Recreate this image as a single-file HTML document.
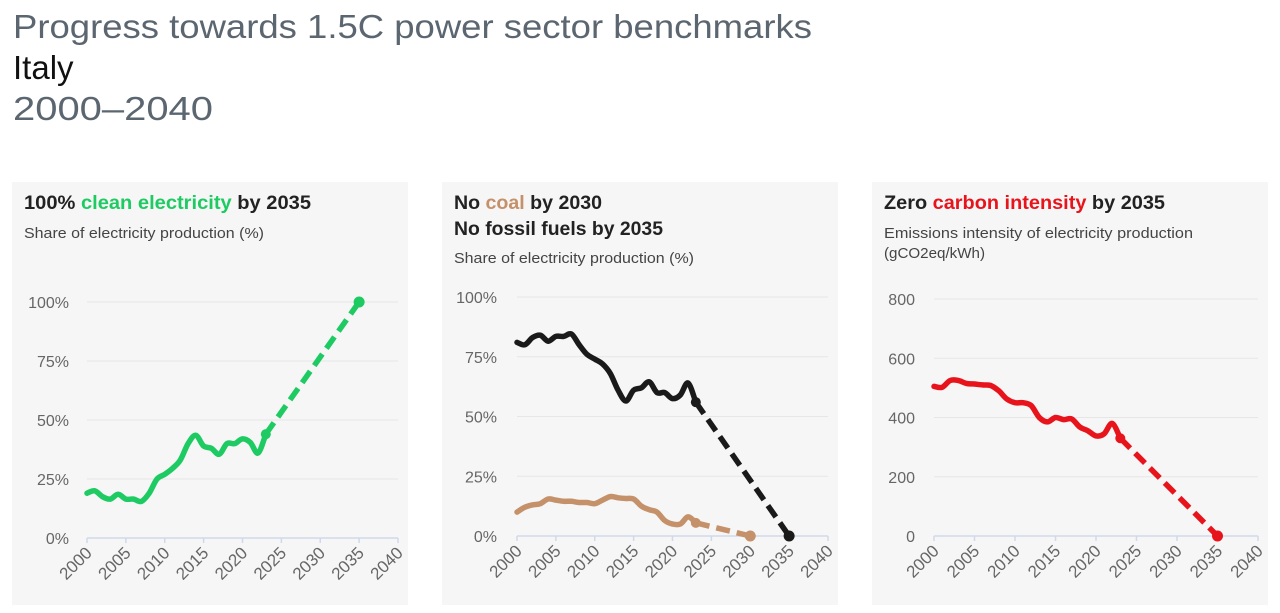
<!DOCTYPE html>
<html><head><meta charset="utf-8">
<style>
html,body{margin:0;padding:0;background:#fff;width:1280px;height:613px;overflow:hidden}
svg{display:block;font-family:"Liberation Sans",sans-serif}
</style></head>
<body>
<svg id="s" width="1280" height="613" viewBox="0 0 1280 613" xmlns="http://www.w3.org/2000/svg">
<text x="13" y="38" font-size="33" fill="#5b6670" textLength="799" lengthAdjust="spacingAndGlyphs">Progress towards 1.5C power sector benchmarks</text>
<text x="13" y="79" font-size="33" fill="#111">Italy</text>
<text x="13" y="120" font-size="33" fill="#5b6670" textLength="200" lengthAdjust="spacingAndGlyphs">2000–2040</text>
<rect x="12" y="182" width="396" height="423" fill="#f6f6f6"/>
<rect x="442" y="182" width="396" height="423" fill="#f6f6f6"/>
<rect x="872" y="182" width="396" height="423" fill="#f6f6f6"/>
<text x="24" y="209" font-size="19" font-weight="bold" fill="#222" textLength="287" lengthAdjust="spacingAndGlyphs">100% <tspan fill="#1ecb63">clean electricity</tspan> by 2035</text>
<text x="24" y="238" font-size="15" fill="#444" textLength="240" lengthAdjust="spacingAndGlyphs">Share of electricity production (%)</text>
<text x="454" y="209" font-size="19" font-weight="bold" fill="#222" textLength="148" lengthAdjust="spacingAndGlyphs">No <tspan fill="#c4916a">coal</tspan> by 2030</text>
<text x="454" y="235" font-size="19" font-weight="bold" fill="#222" textLength="209" lengthAdjust="spacingAndGlyphs">No fossil fuels by 2035</text>
<text x="454" y="263" font-size="15" fill="#444" textLength="240" lengthAdjust="spacingAndGlyphs">Share of electricity production (%)</text>
<text x="884" y="209" font-size="19" font-weight="bold" fill="#222" textLength="281" lengthAdjust="spacingAndGlyphs">Zero <tspan fill="#e8141c">carbon intensity</tspan> by 2035</text>
<text x="884" y="238" font-size="15" fill="#444" textLength="309" lengthAdjust="spacingAndGlyphs">Emissions intensity of electricity production</text>
<text x="884" y="258" font-size="15" fill="#444" textLength="101" lengthAdjust="spacingAndGlyphs">(gCO2eq/kWh)</text>
<g id="g"></g>
</svg>
<script>
var g=document.getElementById('g'),h='';
function axis(x0,x1,yTop,yBot,labels,lx){
  var n=labels.length-1;
  for(var i=0;i<=n;i++){var y=yBot-(yBot-yTop)*i/n;
    if(i>0)h+='<line x1="'+x0+'" x2="'+x1+'" y1="'+y+'" y2="'+y+'" stroke="#e6e6e6" stroke-width="1"/>';
    h+='<text x="'+lx+'" y="'+(y+6)+'" font-size="16" fill="#666" text-anchor="end">'+labels[i]+'</text>';}
  h+='<line x1="'+x0+'" x2="'+x1+'" y1="'+yBot+'" y2="'+yBot+'" stroke="#d0d8ea" stroke-width="1.5"/>';
  for(var k=0;k<=8;k++){var x=x0+(x1-x0)*k/8;
    h+='<line x1="'+x+'" x2="'+x+'" y1="'+yBot+'" y2="'+(yBot+5)+'" stroke="#d0d8ea" stroke-width="1.5"/>';
    h+='<text transform="translate('+(x+6)+','+(yBot+16)+') rotate(-45)" font-size="17" fill="#666" text-anchor="end">'+(2000+5*k)+'</text>';}
}
function series(x0,x1,yBot,sc,data,color,endYr,endV){
  var px=function(yr){return x0+(x1-x0)*(yr-2000)/40},py=function(v){return yBot-v*sc};
  var P=data.map(function(v,i){return [px(2000+i),py(v)]});
  var p='M'+P[0][0].toFixed(1)+' '+P[0][1].toFixed(1);
  for(var i=0;i<P.length-1;i++){var a=P[Math.max(0,i-1)],b=P[i],c=P[i+1],d=P[Math.min(P.length-1,i+2)];
    p+='C'+(b[0]+(c[0]-a[0])/6).toFixed(1)+' '+(b[1]+(c[1]-a[1])/6).toFixed(1)+' '+(c[0]-(d[0]-b[0])/6).toFixed(1)+' '+(c[1]-(d[1]-b[1])/6).toFixed(1)+' '+c[0].toFixed(1)+' '+c[1].toFixed(1);}
  h+='<path d="'+p+'" fill="none" stroke="'+color+'" stroke-width="5.5" stroke-linejoin="round" stroke-linecap="round"/>';
  var lx=px(2023),ly=py(data[23]);
  h+='<line x1="'+lx+'" y1="'+ly+'" x2="'+px(endYr)+'" y2="'+py(endV)+'" stroke="'+color+'" stroke-width="5.5" stroke-dasharray="14 7"/>';
  h+='<circle cx="'+lx+'" cy="'+ly+'" r="5" fill="'+color+'"/><circle cx="'+px(endYr)+'" cy="'+py(endV)+'" r="5.5" fill="'+color+'"/>';
}
axis(87,398,302,538,['0%','25%','50%','75%','100%'],69);
series(87,398,538,2.36,[19,20,17.5,16.5,18.5,16.5,16.5,15.5,19,25,27,29.5,33,40,43.5,39,38,35.5,40,40,42,40.5,36,44],'#1ecb63',2035,100);
axis(517,828,297,536,['0%','25%','50%','75%','100%'],497);
series(517,828,536,2.39,[81,80,83,84,81.5,83.5,83.5,84.5,80,76,74,72,68,61,56.5,61,62,64.5,60,60,57.5,59,64,56],'#1a1a1a',2035,0);
series(517,828,536,2.39,[10,12,13,13.5,15.5,15,14.5,14.5,14,14,13.5,15,16.5,16,15.7,15.5,12.5,11,10,6.5,5,5,8,5.5],'#c4916a',2030,0);
axis(934,1258,299,536,['0','200','400','600','800'],915);
series(934,1258,536,0.29625,[505,502,525,525,515,513,510,508,490,462,450,450,440,400,385,400,393,395,368,355,338,345,380,330],'#e8141c',2035,0);
g.innerHTML=h;
</script>
</body></html>
